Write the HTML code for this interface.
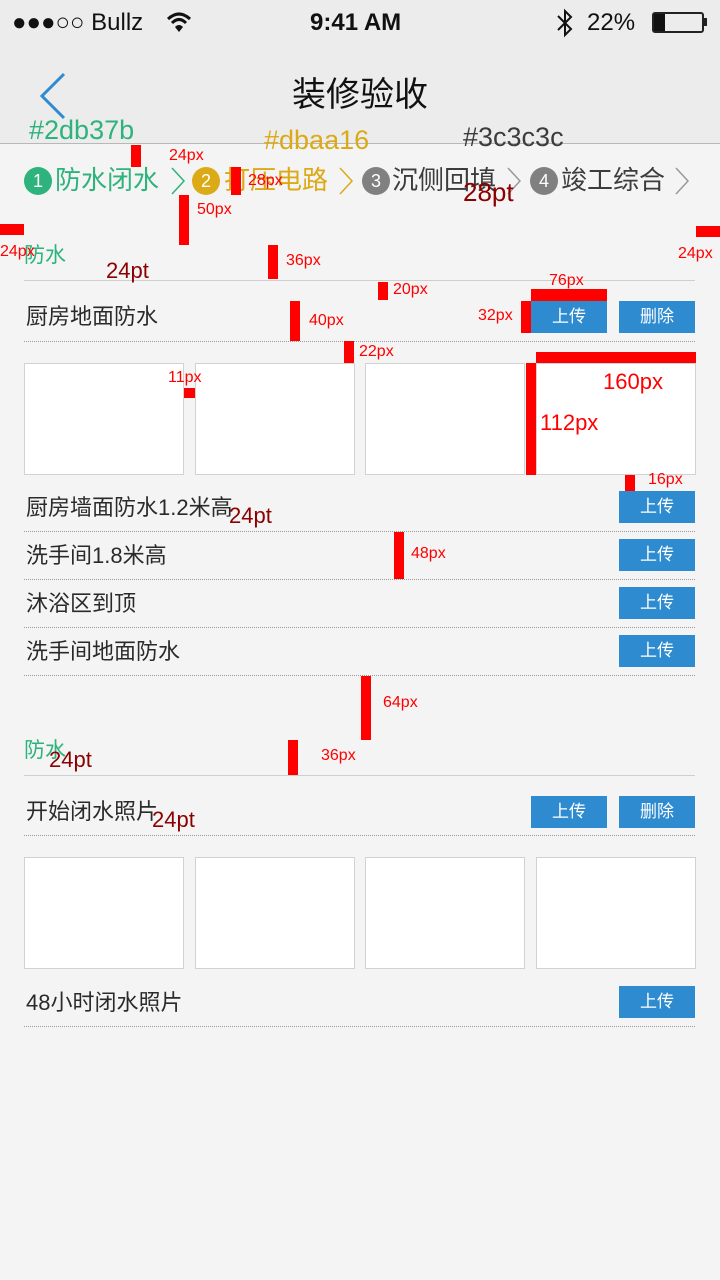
<!DOCTYPE html>
<html><head><meta charset="utf-8">
<style>
*{margin:0;padding:0;box-sizing:border-box}
body{width:720px;height:1280px;background:#f4f4f4;position:relative;overflow:hidden;font-family:"Liberation Sans","Noto Sans CJK SC",sans-serif;color:#3c3c3c}
.a{position:absolute;white-space:nowrap}
.hdr{left:0;top:0;width:720px;height:144px;background:#ececec;border-bottom:1px solid #b8b8b8}
.r{position:absolute;background:#ff0000}
.rl{position:absolute;color:#ff0000;font-size:16px;line-height:16px;white-space:nowrap}
.pt{position:absolute;color:#8b0000;font-size:22px;line-height:22px;white-space:nowrap}
.lbl{font-size:22px;line-height:26px;color:#2a2a2a}
.btn{position:absolute;width:76px;height:32px;background:#2e8bd0;color:#fff;font-size:17px;line-height:32px;text-align:center}
.dot{position:absolute;left:24px;width:671px;height:0;border-top:1px dotted #9a9a9a}
.sec{position:absolute;left:24px;width:671px;height:1px;background:#cfcfcf}
.img{position:absolute;width:160px;height:112px;background:#fff;border:1px solid #d2d2d2}
.circ{position:absolute;width:28px;height:28px;border-radius:50%;color:#fff;font-size:18px;line-height:28px;text-align:center}
.step{position:absolute;font-size:26px;line-height:30px;white-space:nowrap}
.chev{position:absolute;top:167px}
</style></head><body>
<div class="a hdr"></div>
<div class="a" style="left:12px;top:8px;font-size:24px;line-height:30px;color:#111">●●●○○ Bullz</div>
<svg class="a" style="left:166px;top:10px" width="26" height="24"><path d="M2,9 Q13,-1 24,9" fill="none" stroke="#111" stroke-width="3"/><path d="M6,13 Q13,6 20,13" fill="none" stroke="#111" stroke-width="3"/><path d="M13,22 L9,17 Q13,13 17,17 Z" fill="#111"/></svg>
<div class="a" style="left:310px;top:8px;font-size:24px;line-height:30px;color:#111;font-weight:bold">9:41 AM</div>
<svg class="a" style="left:555px;top:8px" width="20" height="30"><polyline points="3,8 16,21 10,27 10,3 16,9 3,22" fill="none" stroke="#111" stroke-width="2"/></svg>
<div class="a" style="left:587px;top:8px;font-size:24px;line-height:30px;color:#111">22%</div>
<div class="a" style="left:652px;top:12px;width:52px;height:21px;border:2px solid #222;border-radius:3px"><div style="width:11px;height:100%;background:#111"></div></div>
<div class="a" style="left:704px;top:18px;width:3px;height:8px;background:#222"></div>
<svg class="a" style="left:38px;top:72px" width="30" height="48"><polyline points="26,2 4,24 26,46" fill="none" stroke="#2e8bd0" stroke-width="3"/></svg>
<div class="a" style="left:0;width:720px;top:75px;text-align:center;font-size:34px;line-height:40px;color:#111">装修验收</div>

<div class="a" style="left:29px;top:115px;font-size:27px;line-height:30px;color:#2db37b">#2db37b</div>
<div class="a" style="left:264px;top:125px;font-size:27px;line-height:30px;color:#dbaa16">#dbaa16</div>
<div class="a" style="left:463px;top:122px;font-size:27px;line-height:30px;color:#3c3c3c">#3c3c3c</div>

<div class="circ" style="left:24px;top:167px;background:#2db37b">1</div>
<div class="step" style="left:55px;top:165px;color:#2db37b">防水闭水</div>
<svg class="chev" style="left:170px" width="16" height="28"><polyline points="2,1 14,14 2,27" fill="none" stroke="#2db37b" stroke-width="1.5"/></svg>
<div class="circ" style="left:192px;top:167px;background:#dbaa16">2</div>
<div class="step" style="left:224px;top:165px;color:#dbaa16">打压电路</div>
<svg class="chev" style="left:338px" width="16" height="28"><polyline points="2,1 14,14 2,27" fill="none" stroke="#dbaa16" stroke-width="1.5"/></svg>
<div class="circ" style="left:362px;top:167px;background:#808080">3</div>
<div class="step" style="left:392px;top:165px;color:#3c3c3c">沉侧回填</div>
<svg class="chev" style="left:506px" width="16" height="28"><polyline points="2,1 14,14 2,27" fill="none" stroke="#999" stroke-width="1.5"/></svg>
<div class="circ" style="left:530px;top:167px;background:#808080">4</div>
<div class="step" style="left:561px;top:165px;color:#3c3c3c">竣工综合</div>
<svg class="chev" style="left:674px" width="16" height="28"><polyline points="2,1 14,14 2,27" fill="none" stroke="#999" stroke-width="1.5"/></svg>

<div class="a" style="left:24px;top:244px;font-size:21px;line-height:24px;color:#2db37b">防水</div>
<div class="sec" style="top:280px"></div>

<div class="a lbl" style="left:26px;top:304px">厨房地面防水</div>
<div class="btn" style="left:531px;top:301px">上传</div>
<div class="btn" style="left:619px;top:301px">删除</div>
<div class="dot" style="top:341px"></div>
<div class="img" style="left:24px;top:363px"></div>
<div class="img" style="left:195px;top:363px"></div>
<div class="img" style="left:365px;top:363px"></div>
<div class="img" style="left:536px;top:363px"></div>

<div class="a lbl" style="left:26px;top:495px">厨房墙面防水1.2米高</div>
<div class="btn" style="left:619px;top:491px">上传</div>
<div class="dot" style="top:531px"></div>
<div class="a lbl" style="left:26px;top:543px">洗手间1.8米高</div>
<div class="btn" style="left:619px;top:539px">上传</div>
<div class="dot" style="top:579px"></div>
<div class="a lbl" style="left:26px;top:591px">沐浴区到顶</div>
<div class="btn" style="left:619px;top:587px">上传</div>
<div class="dot" style="top:627px"></div>
<div class="a lbl" style="left:26px;top:639px">洗手间地面防水</div>
<div class="btn" style="left:619px;top:635px">上传</div>
<div class="dot" style="top:675px"></div>

<div class="a" style="left:24px;top:739px;font-size:21px;line-height:24px;color:#2db37b">防水</div>
<div class="sec" style="top:775px"></div>
<div class="a lbl" style="left:26px;top:799px">开始闭水照片</div>
<div class="btn" style="left:531px;top:796px">上传</div>
<div class="btn" style="left:619px;top:796px">删除</div>
<div class="dot" style="top:835px"></div>
<div class="img" style="left:24px;top:857px"></div>
<div class="img" style="left:195px;top:857px"></div>
<div class="img" style="left:365px;top:857px"></div>
<div class="img" style="left:536px;top:857px"></div>
<div class="a lbl" style="left:26px;top:990px">48小时闭水照片</div>
<div class="btn" style="left:619px;top:986px">上传</div>
<div class="dot" style="top:1026px"></div>

<div class="r" style="left:131px;top:145px;width:10px;height:22px"></div>
<div class="r" style="left:231px;top:167px;width:10px;height:28px"></div>
<div class="r" style="left:179px;top:195px;width:10px;height:50px"></div>
<div class="r" style="left:0;top:224px;width:24px;height:11px"></div>
<div class="r" style="left:696px;top:226px;width:24px;height:11px"></div>
<div class="r" style="left:268px;top:245px;width:10px;height:34px"></div>
<div class="r" style="left:378px;top:282px;width:10px;height:18px"></div>
<div class="r" style="left:531px;top:289px;width:76px;height:12px"></div>
<div class="r" style="left:290px;top:301px;width:10px;height:40px"></div>
<div class="r" style="left:521px;top:301px;width:10px;height:32px"></div>
<div class="r" style="left:344px;top:341px;width:10px;height:22px"></div>
<div class="r" style="left:536px;top:352px;width:160px;height:11px"></div>
<div class="r" style="left:526px;top:363px;width:10px;height:112px"></div>
<div class="r" style="left:184px;top:388px;width:11px;height:10px"></div>
<div class="r" style="left:625px;top:475px;width:10px;height:16px"></div>
<div class="r" style="left:394px;top:532px;width:10px;height:47px"></div>
<div class="r" style="left:361px;top:676px;width:10px;height:64px"></div>
<div class="r" style="left:288px;top:740px;width:10px;height:35px"></div>

<div class="rl" style="left:169px;top:148px">24px</div>
<div class="rl" style="left:248px;top:173px">28px</div>
<div class="rl" style="left:197px;top:202px">50px</div>
<div class="rl" style="left:0;top:244px">24px</div>
<div class="rl" style="left:678px;top:246px">24px</div>
<div class="rl" style="left:286px;top:253px">36px</div>
<div class="rl" style="left:549px;top:273px">76px</div>
<div class="rl" style="left:393px;top:282px">20px</div>
<div class="rl" style="left:478px;top:308px">32px</div>
<div class="rl" style="left:309px;top:313px">40px</div>
<div class="rl" style="left:359px;top:344px">22px</div>
<div class="rl" style="left:168px;top:370px">11px</div>
<div class="rl" style="left:603px;top:371px;font-size:22px;line-height:22px">160px</div>
<div class="rl" style="left:540px;top:412px;font-size:22px;line-height:22px">112px</div>
<div class="rl" style="left:648px;top:472px">16px</div>
<div class="rl" style="left:411px;top:546px">48px</div>
<div class="rl" style="left:383px;top:695px">64px</div>
<div class="rl" style="left:321px;top:748px">36px</div>

<div class="pt" style="left:463px;top:179px;font-size:26px;line-height:26px">28pt</div>
<div class="pt" style="left:106px;top:260px">24pt</div>
<div class="pt" style="left:229px;top:505px">24pt</div>
<div class="pt" style="left:49px;top:749px">24pt</div>
<div class="pt" style="left:152px;top:809px">24pt</div>
</body></html>
